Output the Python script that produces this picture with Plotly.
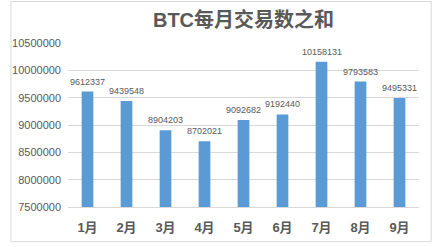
import plotly.graph_objects as go

months = ["1月", "2月", "3月", "4月", "5月", "6月", "7月", "8月", "9月"]
values = [9612337, 9439548, 8904203, 8702021, 9092682, 9192440, 10158131, 9793583, 9495331]
y_ticks = [7500000, 8000000, 8500000, 9000000, 9500000, 10000000, 10500000]

W, H = 432, 247
ML, MR, MT, MB = 59, 13, 43, 36
pw, ph = W - ML - MR, H - MT - MB

fig = go.Figure()
fig.add_trace(go.Bar(x=months, y=values, marker=dict(color="#5B9BD5", line=dict(width=0)),
                     hoverinfo="skip"))

for m, v in zip(months, values):
    fig.add_annotation(x=m, y=v, text=str(v), showarrow=False, yanchor="bottom", yshift=3,
                       font=dict(family="Liberation Sans, Arial, sans-serif", size=9, color="#595959"))

# outer frame
fig.add_shape(type="rect", xref="paper", yref="paper",
              x0=(0.5 - ML) / pw, x1=(W - 0.5 - ML) / pw,
              y0=(MT + ph - (H - 0.5)) / ph, y1=(MT + ph - 0.5) / ph,
              line=dict(color="#D9D9D9", width=1), layer="below")

fig.update_layout(
    width=W, height=H,
    margin=dict(l=ML, r=MR, t=MT, b=MB),
    paper_bgcolor="white", plot_bgcolor="white",
    bargap=0.7, showlegend=False,
    title=dict(text="<b>BTC每月交易数之和</b>", x=0.5, xref="paper", xanchor="center",
               y=1 - 19.5 / H, yanchor="middle",
               font=dict(family="Liberation Sans, Noto Sans CJK SC, sans-serif", size=20, color="#595959")),
    xaxis=dict(tickfont=dict(family="Liberation Sans, Noto Sans CJK SC, sans-serif", size=13, color="#595959"),
               ticks="", showline=True, linecolor="#D9D9D9", linewidth=1, showgrid=False,
               ticklabelstandoff=8, fixedrange=True, tickprefix="<b>", ticksuffix="</b>"),
    yaxis=dict(range=[7500000, 10500000], tickvals=y_ticks, ticktext=[str(t) for t in y_ticks],
               tickfont=dict(family="Liberation Sans, Arial, sans-serif", size=11, color="#595959"),
               showgrid=True, gridcolor="#D9D9D9", gridwidth=1, zeroline=False, ticks="",
               ticklabelstandoff=6, fixedrange=True),
)

fig.write_html("out.html", config={"displayModeBar": False})
